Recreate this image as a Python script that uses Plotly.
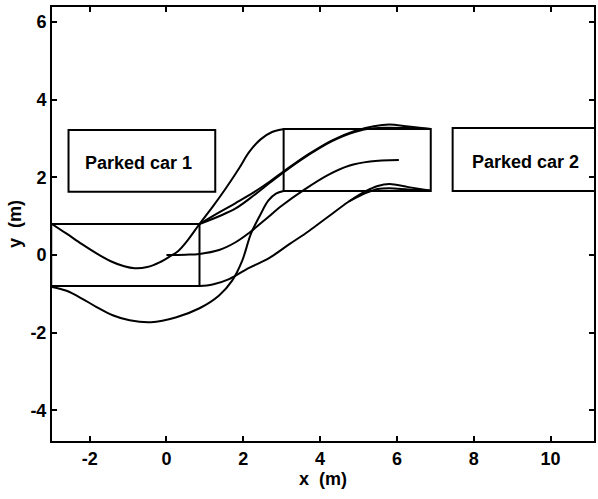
import plotly.graph_objects as go

# Trajectories of the car's corners and reference point during the lane-change manoeuvre (m)
rear_left_x = [-2.98, -2.6, -2.2, -1.8, -1.45, -1.1, -0.83, -0.5, -0.18, 0.1, 0.3, 0.55, 0.86,
               1.2, 1.56, 1.9, 2.15, 2.45, 2.75, 3.05]
rear_left_y = [0.80, 0.55, 0.28, 0.03, -0.16, -0.29, -0.34, -0.31, -0.19, -0.03, 0.1, 0.38, 0.80,
               1.24, 1.74, 2.25, 2.65, 2.98, 3.17, 3.24]

rear_right_x = [-2.98, -2.6, -2.2, -1.82, -1.4, -0.96, -0.4, 0.26, 0.86, 1.37, 1.71, 1.97, 2.2,
                2.45, 2.65, 2.85, 3.05]
rear_right_y = [-0.82, -0.92, -1.12, -1.34, -1.55, -1.68, -1.73, -1.6, -1.37, -1.04, -0.66, -0.15,
                0.55, 1.05, 1.4, 1.58, 1.65]

front_left_x = [0.86, 1.37, 1.8, 2.28, 2.7, 3.1, 3.7, 4.3, 4.9, 5.4, 5.8, 6.3, 6.88]
front_left_y = [0.80, 1.10, 1.34, 1.62, 1.90, 2.19, 2.60, 2.95, 3.20, 3.32, 3.36, 3.31, 3.25]

front_left_alt_x = [0.86, 1.37, 1.8, 2.28, 2.7, 3.1, 3.7, 4.3, 4.9, 5.4, 5.8, 6.3, 6.88]
front_left_alt_y = [0.80, 1.00, 1.20, 1.54, 1.87, 2.17, 2.58, 2.93, 3.17, 3.27, 3.28, 3.27, 3.25]

front_right_x = [0.86, 1.2, 1.63, 2.15, 2.67, 3.2, 3.71, 4.2, 4.75, 5.2, 5.5, 5.8, 6.3, 6.88]
front_right_y = [-0.80, -0.76, -0.62, -0.33, -0.08, 0.28, 0.62, 0.98, 1.38, 1.65, 1.78, 1.83, 1.75, 1.66]

front_right_alt_x = [4.75, 5.2, 5.5, 5.8, 6.3, 6.88]
front_right_alt_y = [1.38, 1.60, 1.70, 1.72, 1.69, 1.66]

ref_point_x = [0.0, 0.5, 0.86, 1.37, 1.8, 2.15, 2.59, 3.0, 3.58, 4.2, 4.75, 5.3, 6.05]
ref_point_y = [0.0, 0.01, 0.03, 0.13, 0.33, 0.57, 0.93, 1.27, 1.68, 2.06, 2.30, 2.41, 2.45]

# Car outlines: (x_min, x_max, y_min, y_max)
start_car = (-3.0, 0.86, -0.80, 0.80)
final_car = (3.05, 6.88, 1.65, 3.25)
parked_car_1 = (-2.55, 1.27, 1.63, 3.22)
parked_car_2 = (7.45, 11.3, 1.65, 3.27)

labels = ["Parked car 1", "Parked car 2"]
label_x = [-0.72, 9.34]
label_y = [2.36, 2.40]

x_ticks = [-2, 0, 2, 4, 6, 8, 10]
y_ticks = [-4, -2, 0, 2, 4, 6]

FONT = "Liberation Sans, Arial, Helvetica, sans-serif"

fig = go.Figure()

curves = [
    (rear_left_x, rear_left_y),
    (rear_right_x, rear_right_y),
    (front_left_x, front_left_y),
    (front_left_alt_x, front_left_alt_y),
    (front_right_x, front_right_y),
    (front_right_alt_x, front_right_alt_y),
    (ref_point_x, ref_point_y),
]
for cx, cy in curves:
    fig.add_trace(go.Scatter(x=cx, y=cy, mode="lines",
                             line=dict(color="black", width=2, shape="spline", smoothing=1.0),
                             hoverinfo="skip"))

for (x0, x1, y0, y1) in [start_car, final_car, parked_car_1, parked_car_2]:
    fig.add_shape(type="rect", x0=x0, x1=x1, y0=y0, y1=y1, xref="x", yref="y",
                  line=dict(color="black", width=2), layer="above")

for t, lx, ly in zip(labels, label_x, label_y):
    fig.add_annotation(x=lx, y=ly, text=t, showarrow=False,
                       font=dict(family=FONT, size=18, color="black", weight="bold"))

axis_common = dict(
    showgrid=False, zeroline=False, showline=True, linecolor="black", linewidth=2,
    mirror="ticks", ticks="inside", ticklen=5, tickwidth=1.5, tickcolor="black",
    tickfont=dict(family=FONT, size=18, color="black", weight="bold"),
)

fig.update_layout(
    width=598, height=499,
    margin=dict(l=52, r=2, t=7, b=58),
    plot_bgcolor="white", paper_bgcolor="white",
    showlegend=False,
    xaxis=dict(range=[-2.98, 11.13], tickvals=x_ticks, ticktext=[str(v) for v in x_ticks],
               title=dict(text="x  (m)", font=dict(family=FONT, size=18, color="black", weight="bold"),
                          standoff=2),
               **axis_common),
    yaxis=dict(range=[-4.79, 6.39], tickvals=y_ticks, ticktext=[str(v) for v in y_ticks],
               title=dict(text="y  (m)", font=dict(family=FONT, size=18, color="black", weight="bold"),
                          standoff=4),
               **axis_common),
)

fig.write_html("out.html")
